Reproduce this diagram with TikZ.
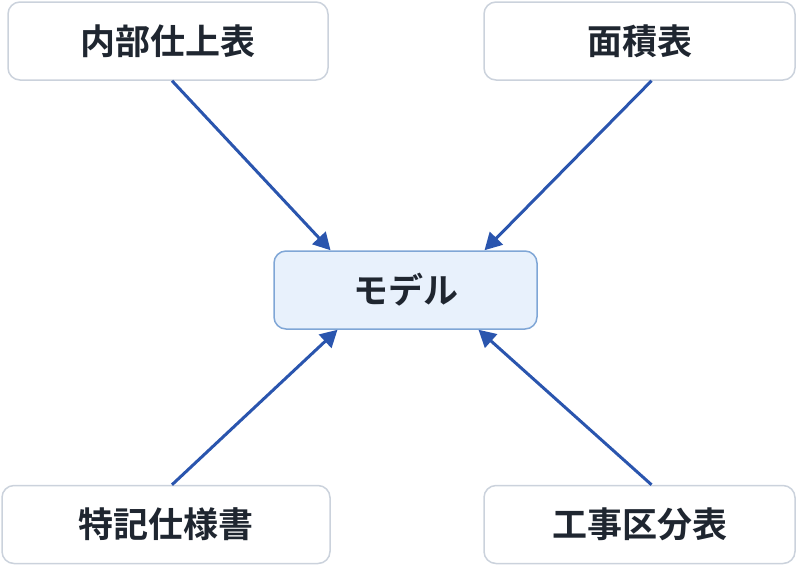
\documentclass[tikz,border=0pt]{standalone}
\usepackage{fontspec}
\setmainfont{Noto Sans CJK JP}[BoldFont={* Bold}]
\usetikzlibrary{arrows.meta}
\definecolor{boxline}{HTML}{CBD2DC}
\definecolor{modelfill}{HTML}{E8F1FC}
\definecolor{modelline}{HTML}{7FA6D6}
\definecolor{arrowblue}{HTML}{2A55AE}
\definecolor{textdark}{HTML}{1F2630}
\begin{document}
\begin{tikzpicture}[x=1pt, y=-1pt,
    doc/.style={draw=boxline, line width=1.5pt, rounded corners=12pt, fill=white,
        minimum width=320pt, minimum height=78pt, text=textdark, font=\fontsize{35}{40}\selectfont\bfseries},
    model/.style={doc, draw=modelline, fill=modelfill, minimum width=263pt},
    link/.style={draw=arrowblue, line width=3pt, -{Triangle[length=17pt, width=18pt]}}]
            \useasboundingbox (0,0) rectangle (800,574);
            \node[doc] (naibu) at (168,41) {内部仕上表};
            \node[doc, minimum width=311pt] (menseki) at (639.5,41) {面積表};
            \node[model] (moderu) at (405.5,290) {モデル};
            \node[doc, minimum width=328pt] (tokki) at (166,524.5) {特記仕様書};
            \node[doc, minimum width=311pt] (kouji) at (639.5,524.5) {工事区分表};

            \draw[link] ([xshift=4pt]naibu.south) -- ([xshift=-75pt]moderu.north);
            \draw[link] ([xshift=12pt]menseki.south) -- ([xshift=79pt]moderu.north);
            \draw[link] ([xshift=6pt]tokki.north) -- ([xshift=-68pt]moderu.south);
            \draw[link] ([xshift=12pt]kouji.north) -- ([xshift=73pt]moderu.south);
        \end{tikzpicture}
\end{document}
